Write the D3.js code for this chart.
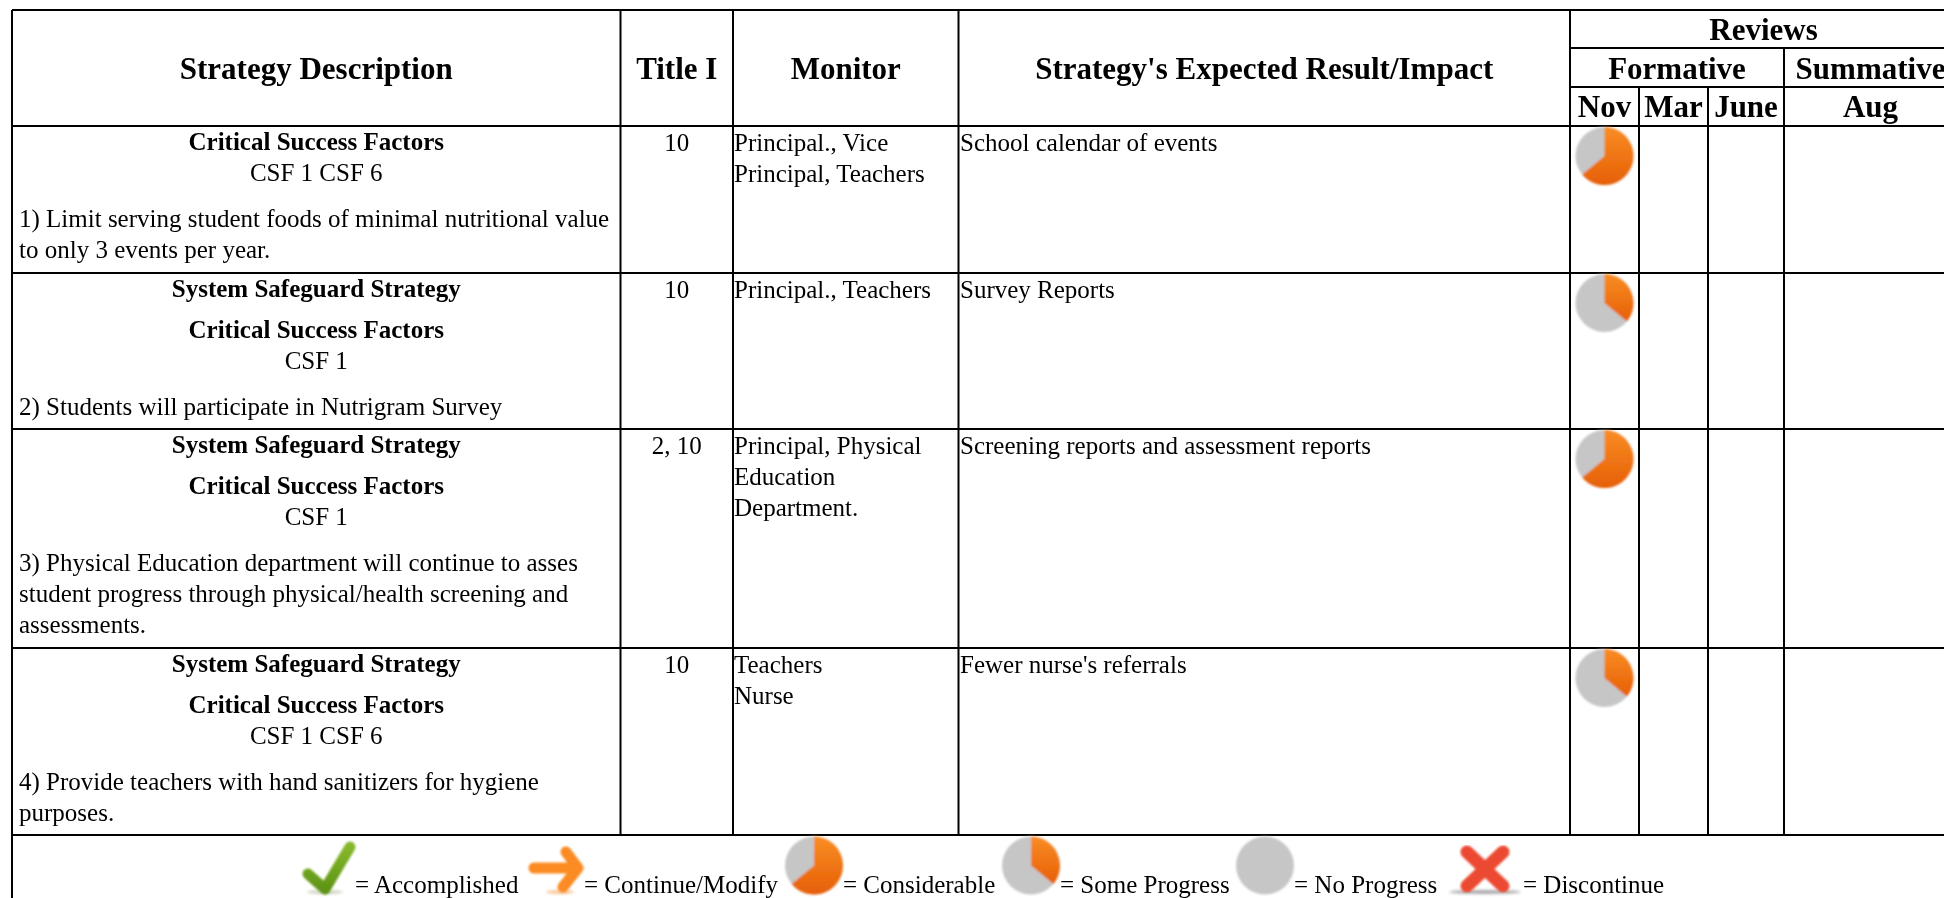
<!DOCTYPE html>
<html>
<head>
<meta charset="utf-8">
<script src="https://cdn.jsdelivr.net/npm/d3@7/dist/d3.min.js"></script>
<style>
html, body { margin: 0; padding: 0; background: #fff; overflow: hidden; }
svg { filter: blur(0.35px); }
text { font-family: "Liberation Serif", serif; fill: #000; }
</style>
</head>
<body>
<div id="chart"></div>
<script>
// table content
var headers = ["Strategy Description", "Title I", "Monitor", "Strategy's Expected Result/Impact"];
var reviewsLabel = "Reviews";
var reviewGroups = ["Formative", "Summative"];
var reviewMonths = ["Nov", "Mar", "June", "Aug"];

var safeguardLabel = "System Safeguard Strategy";
var csfLabel = "Critical Success Factors";
var hasSafeguard = [false, true, true, true];
var csfValues = ["CSF 1 CSF 6", "CSF 1", "CSF 1", "CSF 1 CSF 6"];
var strategyLines = [
	["1) Limit serving student foods of minimal nutritional value", "to only 3 events per year."],
	["2) Students will participate in Nutrigram Survey"],
	["3) Physical Education department will continue to asses", "student progress through physical/health screening and", "assessments."],
	["4) Provide teachers with hand sanitizers for hygiene", "purposes."]
];
var titleRefs = ["10", "10", "2, 10", "10"];
var monitors = [
	["Principal., Vice", "Principal, Teachers"],
	["Principal., Teachers"],
	["Principal, Physical", "Education", "Department."],
	["Teachers", "Nurse"]
];
var results = ["School calendar of events", "Survey Reports", "Screening reports and assessment reports", "Fewer nurse's referrals"];

// share of the Nov pie done, in percent
var novProgress = [64, 36, 64, 36];

var legendLabels = ["= Accomplished", "= Continue/Modify", "= Considerable", "= Some Progress", "= No Progress", "= Discontinue"];
var legendKinds = ["check", "arrow", "pie", "pie", "pie", "cross"];
var legendProgress = [null, null, 64, 36, 0, null];

// layout
var width = 1944, height = 898;
var colEdges = [12, 620.5, 733, 958.5, 1570, 1639, 1708, 1784, 1957];
var rowEdges = [126, 273, 429, 648, 835];
var headTop = 10, reviewLine1 = 48, reviewLine2 = 87;

var x = d3.scaleOrdinal().domain(d3.range(colEdges.length)).range(colEdges);
var y = d3.scaleOrdinal().domain(d3.range(rowEdges.length)).range(rowEdges);

var svg = d3.select("#chart").append("svg")
	.attr("width", width)
	.attr("height", height)
	.style("display", "block");

var defs = svg.append("defs");

function gradient(id, top, bottom) {
	var g = defs.append("linearGradient").attr("id", id)
		.attr("x1", 0).attr("y1", 0).attr("x2", 0).attr("y2", 1);
	g.append("stop").attr("offset", "0%").attr("stop-color", top);
	g.append("stop").attr("offset", "100%").attr("stop-color", bottom);
}
gradient("orangeFill", "#f98d25", "#e65f05");
gradient("greenFill", "#86b82c", "#5f9415");

defs.append("filter").attr("id", "soft")
	.attr("x", "-20%").attr("y", "-20%").attr("width", "140%").attr("height", "140%")
	.append("feGaussianBlur").attr("stdDeviation", 0.8);
defs.append("filter").attr("id", "shadow")
	.attr("x", "-30%").attr("y", "-150%").attr("width", "160%").attr("height", "400%")
	.append("feGaussianBlur").attr("stdDeviation", 1.5);

/********* GRID ************/
var grid = svg.append("g")
	.attr("stroke", "#000")
	.attr("stroke-width", 2);

function hline(x1, x2, yy) {
	grid.append("line").attr("x1", x1).attr("x2", x2).attr("y1", yy).attr("y2", yy);
}
function vline(xx, y1, y2) {
	grid.append("line").attr("x1", xx).attr("x2", xx).attr("y1", y1).attr("y2", y2);
}

hline(x(0), width, headTop);
rowEdges.forEach(function(d) { hline(x(0), width, d); });
hline(x(4), width, reviewLine1);
hline(x(4), width, reviewLine2);

vline(x(0), headTop, height);
[1, 2, 3, 4].forEach(function(i) { vline(x(i), headTop, y(4)); });
vline(x(7), reviewLine1, y(4));
[5, 6].forEach(function(i) { vline(x(i), reviewLine2, y(4)); });

/********* HEADER ************/
function label(parent, txt, xx, yy, size, bold, anchor) {
	return parent.append("text")
		.attr("x", xx)
		.attr("y", yy)
		.attr("font-size", size)
		.attr("font-weight", bold ? "bold" : "normal")
		.attr("text-anchor", anchor || "start")
		.text(txt);
}

var headSize = 31, bodySize = 25;
var head = svg.append("g");

headers.forEach(function(d, i) {
	label(head, d, (x(i) + x(i + 1)) / 2, 79, headSize, true, "middle");
});
label(head, reviewsLabel, (x(4) + x(8)) / 2, 40, headSize, true, "middle");
label(head, reviewGroups[0], (x(4) + x(7)) / 2, 79, headSize, true, "middle");
label(head, reviewGroups[1], (x(7) + x(8)) / 2, 79, headSize, true, "middle");
reviewMonths.forEach(function(d, i) {
	label(head, d, (x(4 + i) + x(5 + i)) / 2, 117, headSize, true, "middle");
});

/********* ROWS ************/
var body = svg.append("g");
var lineGap = 31;

strategyLines.forEach(function(lines, r) {
	var top = y(r), mid = (x(0) + x(1)) / 2, yy = top + 24;
	if (hasSafeguard[r]) {
		label(body, safeguardLabel, mid, yy, bodySize, true, "middle");
		yy += 41;
	}
	label(body, csfLabel, mid, yy, bodySize, true, "middle");
	yy += lineGap;
	label(body, csfValues[r], mid, yy, bodySize, false, "middle");
	yy += 46;
	lines.forEach(function(d, i) {
		label(body, d, x(0) + 7, yy + i * lineGap, bodySize, false);
	});

	label(body, titleRefs[r], (x(1) + x(2)) / 2, top + 25, bodySize, false, "middle");
	monitors[r].forEach(function(d, i) {
		label(body, d, x(2) + 1, top + 25 + i * lineGap, bodySize, false);
	});
	label(body, results[r], x(3) + 1.5, top + 25, bodySize, false);
});

/********* PIES ************/
var pieRadius = 29;
var pie = d3.pie().sort(null);
var arc = d3.arc().innerRadius(0).outerRadius(pieRadius);

function drawPie(cx, cy, value) {
	var g = svg.append("g")
		.attr("transform", "translate(" + cx + "," + cy + ")")
		.attr("filter", "url(#soft)");
	g.append("circle").attr("r", pieRadius).attr("fill", "#c6c6c6");
	g.selectAll("path")
		.data(pie([value, 100 - value]).slice(0, 1))
		.enter()
		.append("path")
		.attr("d", arc)
		.attr("fill", "url(#orangeFill)");
}

novProgress.forEach(function(d, r) {
	drawPie((x(4) + x(5)) / 2, y(r) + 30, d);
});

/********* LEGEND ************/
var legendIconX = [329, 556, 814, 1031, 1265, 1485];
var legendTextX = [355, 584, 843, 1060, 1294, 1523];
var legendBase = 893;
var line = d3.line();

// icon strokes, around the icon's own centre
var checkStroke = [[-21, 6], [-4, 21], [21, -21]];
var arrowShaft = [[-22, 0], [20, 0]];
var arrowHead = [[10, -16], [22, 0], [7, 19]];
var crossArmA = [[-18, -16], [18, 18]];
var crossArmB = [[18, -16], [-18, 18]];

function shadow(cx, rx, color) {
	svg.append("ellipse")
		.attr("cx", cx).attr("cy", 892).attr("rx", rx).attr("ry", 2)
		.attr("fill", color)
		.attr("filter", "url(#shadow)");
}

function strokes(cx, parts, color, w) {
	var g = svg.append("g")
		.attr("transform", "translate(" + cx + ",868)")
		.attr("filter", "url(#soft)");
	parts.forEach(function(p) {
		g.append("path")
			.attr("d", line(p))
			.attr("fill", "none")
			.attr("stroke", color)
			.attr("stroke-width", w)
			.attr("stroke-linecap", "round")
			.attr("stroke-linejoin", "round");
	});
}

legendLabels.forEach(function(d, i) {
	var kind = legendKinds[i];
	if (kind == "pie") {
		drawPie(legendIconX[i], 865.5, legendProgress[i]);
	} else if (kind == "check") {
		shadow(legendIconX[i] - 4, 18, "#cfd6c4");
		strokes(legendIconX[i], [checkStroke], "url(#greenFill)", 11);
	} else if (kind == "arrow") {
		shadow(legendIconX[i] + 4, 14, "#f7c79a");
		strokes(legendIconX[i], [arrowShaft, arrowHead], "#fb8b22", 11);
	} else {
		shadow(legendIconX[i], 36, "#a8a8a8");
		strokes(legendIconX[i], [crossArmA, crossArmB], "#ec4a33", 13);
	}
	label(svg, d, legendTextX[i], legendBase, bodySize, false);
});
</script>
</body>
</html>
